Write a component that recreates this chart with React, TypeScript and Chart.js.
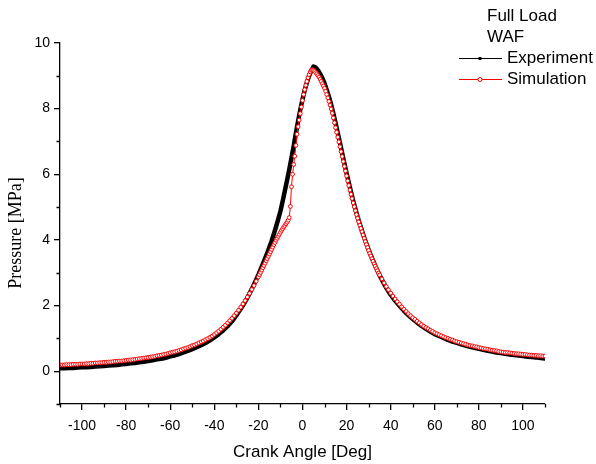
import React, { useEffect, useRef } from 'react';
import { Chart, registerables } from 'chart.js';

Chart.register(...registerables);

// ---- text ----
const headerLines = ['Full Load', 'WAF'];
const seriesNames = ['Experiment', 'Simulation'];
const xAxisTitle = 'Crank Angle [Deg]';
const yAxisTitle = 'Pressure [MPa]';

// ---- axes ----
const xMin = -110;
const xMax = 110;
const yMin = -1;
const yMax = 10;
const xTickValues = [-100, -80, -60, -40, -20, 0, 20, 40, 60, 80, 100];
const xMinorTickValues = [-110, -90, -70, -50, -30, -10, 10, 30, 50, 70, 90, 110];
const yTickValues = [0, 2, 4, 6, 8, 10];
const yMinorTickValues = [-1, 1, 3, 5, 7, 9];

// ---- Experiment (crank angle, pressure) ----
const expAngles = [
  -110, -108, -106, -104, -102, -100, -98, -96, -94, -92,
  -90, -88, -86, -84, -82, -80, -78, -76, -74, -72,
  -70, -68, -66, -64, -62, -60, -58, -56, -54, -52,
  -50, -48, -46, -44, -42, -40, -38, -36, -34, -32,
  -30,
  -29, -28, -27, -26, -25, -24, -23, -22, -21, -20,
  -19, -18, -17, -16, -15, -14, -13, -12, -11, -10,
  -9, -8, -7, -6, -5, -4, -3, -2, -1, 0,
  1, 2, 3, 4, 5, 6, 7, 8, 9, 10,
  11, 12, 13, 14, 15, 16, 17, 18, 19, 20,
  21, 22, 23, 24, 25, 26, 27, 28, 29, 30,
  31, 32, 33, 34, 35, 36, 37, 38, 39, 40,
  42, 44, 46, 48, 50, 52, 54, 56, 58, 60,
  62, 64, 66, 68, 70, 72, 74, 76, 78, 80,
  82, 84, 86, 88, 90, 92, 94, 96, 98, 100,
  102, 104, 106, 108, 110,
];
const expPressure = [
  0.09, 0.09, 0.10, 0.10, 0.11, 0.12, 0.12, 0.13, 0.14, 0.15,
  0.16, 0.17, 0.18, 0.19, 0.21, 0.22, 0.24, 0.25, 0.27, 0.29,
  0.31, 0.33, 0.36, 0.38, 0.41, 0.45, 0.48, 0.52, 0.57, 0.62,
  0.67, 0.73, 0.79, 0.86, 0.94, 1.03, 1.13, 1.24, 1.37, 1.52,
  1.70,
  1.80, 1.90, 2.01, 2.12, 2.24, 2.37, 2.50, 2.64, 2.79, 2.94,
  3.10, 3.26, 3.43, 3.60, 3.78, 3.97, 4.18, 4.40, 4.63, 4.88,
  5.18, 5.50, 5.82, 6.15, 6.50, 6.86, 7.25, 7.62, 7.97, 8.28,
  8.56, 8.80, 9.00, 9.16, 9.28, 9.25, 9.17, 9.06, 8.93, 8.77,
  8.57, 8.36, 8.12, 7.85, 7.56, 7.26, 6.95, 6.64, 6.33, 6.03,
  5.74, 5.46, 5.19, 4.94, 4.70, 4.48, 4.27, 4.07, 3.88, 3.70,
  3.53, 3.37, 3.21, 3.06, 2.92, 2.79, 2.66, 2.54, 2.43, 2.33,
  2.15, 1.99, 1.84, 1.71, 1.59, 1.48, 1.38, 1.29, 1.21, 1.13,
  1.07, 1.01, 0.95, 0.90, 0.86, 0.82, 0.78, 0.74, 0.71, 0.68,
  0.65, 0.62, 0.60, 0.57, 0.55, 0.53, 0.51, 0.49, 0.48, 0.46,
  0.44, 0.43, 0.42, 0.40, 0.39,
];

// ---- Simulation (crank angle, pressure) ----
const simAngles = [
  -110, -109, -108, -107, -106, -105, -104, -103, -102, -101,
  -100, -99, -98, -97, -96, -95, -94, -93, -92, -91,
  -90, -89, -88, -87, -86, -85, -84, -83, -82, -81,
  -80, -79, -78, -77, -76, -75, -74, -73, -72, -71,
  -70, -69, -68, -67, -66, -65, -64, -63, -62, -61,
  -60, -59, -58, -57, -56, -55, -54, -53, -52, -51,
  -50, -49, -48, -47, -46, -45, -44, -43, -42, -41,
  -40, -39, -38, -37, -36, -35, -34, -33, -32, -31,
  -30, -29, -28, -27, -26, -25, -24, -23, -22, -21,
  -20,
  -19.5, -19, -18.5, -18, -17.5, -17, -16.5, -16, -15.5, -15,
  -14.5, -14, -13.5, -13, -12.5, -12, -11.5, -11, -10.5, -10,
  -9.5, -9, -8.5, -8, -7.5, -7, -6.5, -6, -5.5, -5,
  -4.5, -4, -3.5, -3, -2.5, -2, -1.5, -1, -0.5, 0,
  0.5, 1, 1.5, 2, 2.5, 3, 3.5, 4, 4.5, 5,
  5.5, 6, 6.5, 7, 7.5, 8, 8.5, 9, 9.5, 10,
  10.5, 11, 11.5, 12, 12.5, 13, 13.5, 14, 14.5, 15,
  15.5, 16, 16.5, 17, 17.5, 18, 18.5, 19, 19.5, 20,
  20.5, 21, 21.5, 22, 22.5, 23, 23.5, 24, 24.5, 25,
  25.5, 26, 26.5, 27, 27.5, 28, 28.5, 29, 29.5, 30,
  30.5, 31, 31.5, 32, 32.5, 33, 33.5, 34, 34.5, 35,
  36, 37, 38, 39, 40, 41, 42, 43, 44, 45,
  46, 47, 48, 49, 50, 51, 52, 53, 54, 55,
  56, 57, 58, 59, 60, 61, 62, 63, 64, 65,
  66, 67, 68, 69, 70, 71, 72, 73, 74, 75,
  76, 77, 78, 79, 80, 81, 82, 83, 84, 85,
  86, 87, 88, 89, 90, 91, 92, 93, 94, 95,
  96, 97, 98, 99, 100, 101, 102, 103, 104, 105,
  106, 107, 108, 109, 110,
];
const simPressure = [
  0.19, 0.19, 0.19, 0.20, 0.20, 0.20, 0.21, 0.21, 0.21, 0.22,
  0.22, 0.22, 0.23, 0.23, 0.24, 0.24, 0.25, 0.25, 0.26, 0.26,
  0.27, 0.27, 0.28, 0.28, 0.29, 0.30, 0.30, 0.31, 0.31, 0.32,
  0.33, 0.34, 0.34, 0.35, 0.36, 0.37, 0.38, 0.39, 0.40, 0.41,
  0.42, 0.43, 0.44, 0.45, 0.47, 0.48, 0.49, 0.51, 0.52, 0.54,
  0.56, 0.58, 0.59, 0.61, 0.63, 0.65, 0.68, 0.70, 0.72, 0.75,
  0.78, 0.80, 0.83, 0.86, 0.89, 0.92, 0.96, 0.99, 1.03, 1.07,
  1.12, 1.17, 1.22, 1.28, 1.34, 1.40, 1.47, 1.54, 1.61, 1.69,
  1.77, 1.86, 1.95, 2.05, 2.15, 2.26, 2.37, 2.49, 2.61, 2.74,
  2.87,
  2.94, 3.01, 3.08, 3.15, 3.22, 3.29, 3.36, 3.43, 3.50, 3.57,
  3.64, 3.71, 3.78, 3.85, 3.92, 3.99, 4.05, 4.11, 4.17, 4.23,
  4.29, 4.34, 4.39, 4.44, 4.49, 4.54, 4.60, 4.68, 5.02, 5.62,
  6.00, 6.30, 6.55, 6.88, 7.22, 7.45, 7.65, 7.85, 8.05, 8.25,
  8.43, 8.58, 8.71, 8.83, 8.94, 9.04, 9.12, 9.17, 9.19, 9.17,
  9.14, 9.10, 9.06, 9.01, 8.96, 8.90, 8.83, 8.76, 8.69, 8.62,
  8.53, 8.43, 8.33, 8.22, 8.11, 7.99, 7.86, 7.72, 7.57, 7.42,
  7.28, 7.13, 6.99, 6.84, 6.69, 6.54, 6.39, 6.24, 6.10, 5.95,
  5.80, 5.66, 5.52, 5.39, 5.26, 5.13, 5.01, 4.89, 4.77, 4.66,
  4.55, 4.45, 4.35, 4.25, 4.15, 4.05, 3.95, 3.86, 3.77, 3.68,
  3.59, 3.51, 3.43, 3.35, 3.27, 3.20, 3.13, 3.06, 2.99, 2.93,
  2.81, 2.69, 2.58, 2.48, 2.38, 2.29, 2.20, 2.12, 2.04, 1.96,
  1.89, 1.82, 1.75, 1.69, 1.63, 1.58, 1.52, 1.47, 1.42, 1.37,
  1.33, 1.29, 1.25, 1.21, 1.17, 1.14, 1.11, 1.08, 1.05, 1.02,
  1.00, 0.97, 0.95, 0.92, 0.90, 0.88, 0.86, 0.84, 0.82, 0.80,
  0.78, 0.77, 0.75, 0.74, 0.72, 0.71, 0.69, 0.68, 0.67, 0.65,
  0.64, 0.63, 0.62, 0.60, 0.59, 0.58, 0.57, 0.57, 0.56, 0.55,
  0.54, 0.53, 0.53, 0.52, 0.51, 0.51, 0.50, 0.49, 0.49, 0.48,
  0.48, 0.47, 0.47, 0.46, 0.46,
];

const SANS = '"Liberation Sans", Arial, Helvetica, sans-serif';
const SERIF = '"Liberation Serif", "Times New Roman", Times, serif';
const AXIS_W = 1.3;

const overlayPlugin = {
  id: 'overlayPlugin',
  afterDraw(chart: any) {
    const ctx = chart.ctx as CanvasRenderingContext2D;
    const xs = chart.scales.x;
    const ys = chart.scales.y;
    const area = chart.chartArea;
    ctx.save();
    // minor ticks
    ctx.strokeStyle = '#000';
    ctx.lineWidth = AXIS_W;
    ctx.beginPath();
    xMinorTickValues.forEach((v) => {
      const px = Math.round(xs.getPixelForValue(v)) + 0.5;
      ctx.moveTo(px, area.bottom);
      ctx.lineTo(px, area.bottom + 3.5);
    });
    yMinorTickValues.forEach((v) => {
      const py = Math.round(ys.getPixelForValue(v)) + 0.5;
      ctx.moveTo(area.left, py);
      ctx.lineTo(area.left - 3.5, py);
    });
    ctx.stroke();

    ctx.fillStyle = '#000';
    ctx.textBaseline = 'middle';

    // x axis title
    ctx.font = `17px ${SANS}`;
    ctx.textAlign = 'center';
    ctx.fillText(xAxisTitle, (area.left + area.right) / 2, 452);

    // y axis title
    ctx.save();
    ctx.translate(16, 233);
    ctx.rotate(-Math.PI / 2);
    ctx.font = `18px ${SERIF}`;
    ctx.fillText(yAxisTitle, 0, 0);
    ctx.restore();

    // legend
    ctx.textAlign = 'left';
    ctx.font = `17px ${SANS}`;
    ctx.fillText(headerLines[0], 487, 16);
    ctx.fillText(headerLines[1], 487, 37);

    const lx0 = 459;
    const lx1 = 502;
    const lm = 480;
    const ly1 = 58.5;
    const ly2 = 79.5;
    ctx.lineWidth = 1;
    ctx.strokeStyle = '#000';
    ctx.beginPath();
    ctx.moveTo(lx0, ly1);
    ctx.lineTo(lx1, ly1);
    ctx.stroke();
    ctx.fillRect(lm - 1.5, ly1 - 1.5, 3, 3);
    ctx.fillText(seriesNames[0], 507, 58);

    ctx.strokeStyle = '#ff0000';
    ctx.beginPath();
    ctx.moveTo(lx0, ly2);
    ctx.lineTo(lx1, ly2);
    ctx.stroke();
    ctx.fillStyle = '#fff';
    ctx.beginPath();
    ctx.arc(lm, ly2, 2, 0, Math.PI * 2);
    ctx.fill();
    ctx.stroke();
    ctx.fillStyle = '#000';
    ctx.fillText(seriesNames[1], 507, 79);

    ctx.restore();
  },
};

export default function App() {
  const canvasRef = useRef<HTMLCanvasElement | null>(null);

  useEffect(() => {
    const canvas = canvasRef.current;
    if (!canvas) return;
    const expData = expAngles.map((a, i) => ({ x: a, y: expPressure[i] }));
    const simData = simAngles.map((a, i) => ({ x: a, y: simPressure[i] }));

    const chart = new Chart(canvas, {
      type: 'line',
      data: {
        datasets: [
          {
            label: seriesNames[0],
            data: expData,
            borderColor: '#000000',
            backgroundColor: '#000000',
            borderWidth: 4.5,
            borderJoinStyle: 'round',
            borderCapStyle: 'round',
            pointRadius: 0,
            tension: 0,
            order: 1,
          },
          {
            label: seriesNames[1],
            data: simData,
            borderColor: '#ff0000',
            backgroundColor: '#ff0000',
            borderWidth: 1,
            pointRadius: 1.9,
            pointBorderWidth: 1,
            pointBorderColor: '#ff0000',
            pointBackgroundColor: '#ffffff',
            pointStyle: 'circle',
            tension: 0,
            order: 0,
          },
        ],
      },
      options: {
        responsive: false,
        animation: false,
        devicePixelRatio: 1,
        events: [],
        layout: { padding: { top: 43, right: 51, bottom: 0, left: 0 } },
        plugins: {
          legend: { display: false },
          tooltip: { enabled: false },
          title: { display: false },
        },
        scales: {
          x: {
            type: 'linear',
            min: xMin,
            max: xMax,
            afterBuildTicks: (s: any) => {
              s.ticks = xTickValues.map((v) => ({ value: v }));
            },
            afterFit: (s: any) => {
              s.height = 60;
            },
            grid: {
              display: true,
              drawOnChartArea: false,
              drawTicks: true,
              tickLength: 6,
              color: '#000',
              lineWidth: AXIS_W,
            },
            border: { display: true, color: '#000', width: AXIS_W },
            ticks: {
              color: '#000',
              font: { family: SANS, size: 14 },
              padding: 8,
              maxRotation: 0,
              autoSkip: false,
              callback: (v: any) => String(v),
            },
          },
          y: {
            type: 'linear',
            min: yMin,
            max: yMax,
            afterBuildTicks: (s: any) => {
              s.ticks = yTickValues.map((v) => ({ value: v }));
            },
            afterFit: (s: any) => {
              s.width = 60;
            },
            grid: {
              display: true,
              drawOnChartArea: false,
              drawTicks: true,
              tickLength: 6,
              color: '#000',
              lineWidth: AXIS_W,
            },
            border: { display: true, color: '#000', width: AXIS_W },
            ticks: {
              color: '#000',
              font: { family: SANS, size: 14 },
              padding: 4,
              autoSkip: false,
              callback: (v: any) => String(v),
            },
          },
        },
      },
      plugins: [overlayPlugin],
    });
    return () => chart.destroy();
  }, []);

  return (
    <div style={{ position: 'absolute', left: 0, top: 0, width: 596, height: 464, background: '#fff' }}>
      <canvas ref={canvasRef} width={596} height={464} style={{ display: 'block', width: 596, height: 464 }} />
    </div>
  );
}
